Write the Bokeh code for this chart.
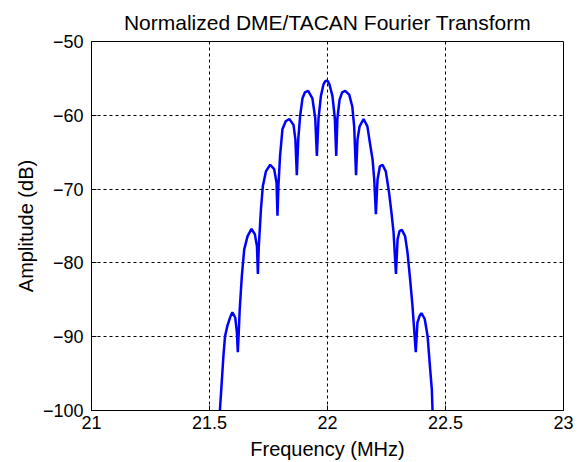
from bokeh.plotting import figure
from bokeh.embed import file_html
from bokeh.resources import INLINE
from bokeh.models import Range1d, FixedTicker

# Values
freq_mhz = [21.541, 21.544, 21.551, 21.559, 21.566, 21.576, 21.587, 21.597, 21.609, 21.616,
            21.620, 21.624, 21.628, 21.637, 21.647, 21.661, 21.678, 21.692, 21.701, 21.705,
            21.709, 21.718, 21.726, 21.739, 21.757, 21.774, 21.784, 21.788, 21.792, 21.799,
            21.809, 21.823, 21.838, 21.856, 21.864, 21.870, 21.876, 21.884, 21.894, 21.904,
            21.918, 21.936, 21.948, 21.955, 21.962, 21.972, 21.983, 21.990, 21.996, 22.002,
            22.008, 22.021, 22.031, 22.037, 22.042, 22.051, 22.062, 22.075, 22.092, 22.105,
            22.113, 22.121, 22.127, 22.136, 22.153, 22.169, 22.181, 22.191, 22.198, 22.205,
            22.212, 22.222, 22.233, 22.247, 22.261, 22.271, 22.280, 22.290, 22.297, 22.305,
            22.315, 22.329, 22.339, 22.350, 22.360, 22.374, 22.381, 22.390, 22.398, 22.412,
            22.424, 22.435, 22.442, 22.445, 22.446]
amp_db = [-102.0, -100.0, -96.6, -92.6, -89.9, -88.5, -87.4, -86.7, -87.4, -89.4,
          -92.1, -89.4, -86.3, -81.8, -78.2, -76.4, -75.4, -76.1, -77.7, -81.5,
          -77.7, -72.7, -69.6, -67.6, -66.7, -67.3, -69.1, -73.6, -69.6, -65.5,
          -61.9, -60.8, -60.5, -61.3, -63.3, -68.1, -63.3, -60.1, -57.7, -56.9,
          -56.7, -57.7, -60.4, -65.5, -60.4, -57.4, -55.8, -55.4, -55.3, -55.4,
          -55.8, -57.4, -60.4, -65.5, -60.4, -57.9, -56.9, -56.7, -57.2, -58.8,
          -61.5, -68.1, -63.3, -61.5, -60.5, -61.5, -64.0, -66.0, -68.7, -73.4,
          -68.7, -66.9, -66.7, -67.6, -70.5, -73.2, -75.9, -81.5, -76.8, -75.7,
          -75.5, -76.4, -78.6, -82.2, -85.8, -92.1, -88.1, -87.2, -86.8, -87.6,
          -89.9, -94.4, -97.1, -100.0, -102.0]

x_ticks = [21, 21.5, 22, 22.5, 23]
x_tick_labels = ["21", "21.5", "22", "22.5", "23"]
y_ticks = [-100, -90, -80, -70, -60, -50]

FONT = "Liberation Sans"

p = figure(width=581, height=462, output_backend="svg", toolbar_location=None,
           x_range=Range1d(21, 23), y_range=Range1d(-100, -50),
           min_border_left=91, min_border_right=18, min_border_top=41, min_border_bottom=51,
           title="Normalized DME/TACAN Fourier Transform")

p.background_fill_color = "white"
p.border_fill_color = "white"
p.outline_line_color = "black"
p.outline_line_alpha = 1.0
p.outline_line_width = 1

p.title.align = "center"
p.title.text_font = FONT
p.title.text_font_size = "21px"
p.title.text_font_style = "normal"
p.title.text_color = "black"
p.title.standoff = 15

p.line(freq_mhz, amp_db, line_color="#0000FF", line_width=2.5)

p.xaxis.ticker = FixedTicker(ticks=x_ticks)
p.yaxis.ticker = FixedTicker(ticks=y_ticks)
p.xaxis.major_label_overrides = {t: l for t, l in zip(x_ticks, x_tick_labels)}
p.xaxis.axis_label = "Frequency (MHz)"
p.yaxis.axis_label = "Amplitude (dB)"

for ax in (p.xaxis[0], p.yaxis[0]):
    ax.axis_line_color = "black"
    ax.major_tick_line_color = "black"
    ax.major_tick_in = 5
    ax.major_tick_out = 0
    ax.minor_tick_line_color = None
    ax.major_label_text_font = FONT
    ax.major_label_text_font_size = "18px"
    ax.major_label_text_color = "black"
    ax.axis_label_text_font = FONT
    ax.axis_label_text_font_size = "20px"
    ax.axis_label_text_font_style = "normal"
    ax.axis_label_text_color = "black"

p.xaxis.major_label_standoff = 5
p.xaxis.axis_label_standoff = 6
p.yaxis.major_label_standoff = 8
p.yaxis.axis_label_standoff = 3

for g in (p.xgrid[0], p.ygrid[0]):
    g.grid_line_color = "black"
    g.grid_line_dash = "3 3"
    g.grid_line_width = 1
    g.grid_line_alpha = 1.0

open("out.html", "w").write(file_html(p, INLINE))
